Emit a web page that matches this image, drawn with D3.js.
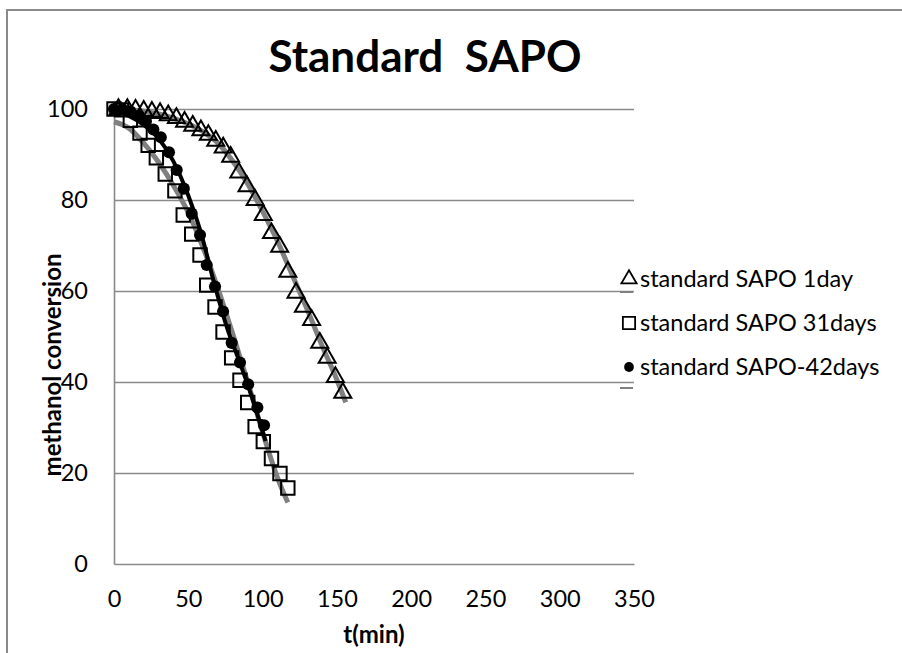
<!DOCTYPE html>
<html>
<head>
	<title>Standard SAPO</title>
	<script src="https://d3js.org/d3.v7.min.js"></script>
	<style type="text/css">
	html, body{
		margin:0;
		background:#fff;
	}
	svg text{
		font-family: Lato, "Open Sans", sans-serif;
		fill:#000;
	}
	</style>
</head>
<body>
	<div id="chart"></div>
	<script type="text/javascript">
	// values
	var day1T = [3, 9, 14.5, 20, 25.5, 31, 36.5, 42, 47.5, 53, 58.5, 63.5, 68.5, 73.5, 78.5, 84, 89.5, 95, 100.5, 106, 111.5, 117, 122.5, 127.5, 133, 138.5, 143.5, 149, 154];
	var day1V = [100, 100, 99.8, 99.6, 99.4, 99.1, 98.6, 98, 97.2, 96.3, 95.3, 94.3, 93, 91.5, 89.5, 86, 83, 80, 76.7, 72.7, 69.7, 64.2, 59.6, 56.5, 53.6, 48.6, 45.3, 41.1, 37.6];

	var day31T = [0, 5, 11, 17.5, 23, 28.5, 34.5, 41, 46.6, 52.3, 57.9, 62.4, 68, 73.4, 79.2, 84.8, 90, 95, 100.5, 106, 111.7, 117];
	var day31V = [100, 99.8, 97.5, 94.7, 92, 89.3, 85.7, 82, 76.7, 72.5, 67.9, 61.3, 56.5, 51, 45.3, 40.4, 35.5, 30.2, 26.9, 23.2, 19.9, 16.7];

	var day42T = [0, 5.5, 11, 16.5, 21.5, 26.5, 31.5, 37, 42.2, 47, 52.3, 57.9, 62.4, 68, 73.4, 79.2, 84.8, 90.3, 96.5, 101];
	var day42V = [100, 100, 99.5, 98.5, 97.3, 95.5, 93.8, 90.5, 86.6, 82.5, 77, 72.3, 65.7, 61, 55.5, 48.6, 44.3, 39.5, 34.4, 30.5];

	// fitted curves (gray for 1day and 31days, black for 42days)
	var fit1T = [0, 20, 40, 60, 70, 80, 90, 100, 110, 120, 130, 140, 150, 156];
	var fit1V = [100, 99.5, 98, 95, 92.5, 88.5, 83.5, 77.5, 71, 63.5, 56, 48, 40.5, 35.5];
	var fit31T = [0, 10, 20, 30, 40, 50, 60, 70, 80, 90, 100, 110, 117];
	var fit31V = [97.2, 95.8, 92.5, 88.3, 83.2, 77.2, 69.5, 60.5, 50.5, 40, 29, 19, 13.5];
	var fit42T = [0, 10, 20, 30, 40, 50, 58, 68, 76, 85, 93, 102];
	var fit42V = [99.5, 98.5, 96.5, 93.5, 88.5, 81, 73.4, 61, 52, 44, 36.5, 27];

	var xTicks = [0, 50, 100, 150, 200, 250, 300, 350];
	var yTicks = [0, 20, 40, 60, 80, 100];
	var seriesNames = ["standard SAPO 1day", "standard SAPO 31days", "standard SAPO-42days"];

	var W = 902, H = 653;
	var svg = d3.select("#chart").append("svg").attr("width", W).attr("height", H);

	var x = d3.scaleLinear().domain([0, 350]).range([114, 634]);
	var y = d3.scaleLinear().domain([0, 100]).range([564, 109]);

	var gridGray = "#8a8a8a";

	// chart area border (runs off the right and bottom)
	svg.append("rect").attr("x", 7).attr("y", 10).attr("width", 1000).attr("height", 800)
		.attr("fill", "none").attr("stroke", gridGray).attr("stroke-width", 2);

	// gridlines
	var grid = svg.append("g").attr("transform", "translate(" + x(0) + ",0)")
		.call(d3.axisLeft(y).tickValues(yTicks.slice(1)).tickSize(-(x(350) - x(0))).tickFormat(""));
	grid.select(".domain").remove();
	grid.selectAll("line").attr("stroke", gridGray).attr("stroke-width", 1.6);

	// axes
	var xAxis = svg.append("g").attr("transform", "translate(0," + y(0) + ")")
		.call(d3.axisBottom(x).tickValues(xTicks).tickSize(0).tickPadding(26));
	xAxis.select(".domain").attr("stroke", gridGray).attr("stroke-width", 1.6);
	xAxis.selectAll("text").style("font-size", "23.5px");

	var yAxis = svg.append("g").attr("transform", "translate(" + x(0) + ",0)")
		.call(d3.axisLeft(y).tickValues(yTicks).tickSize(0).tickPadding(26));
	yAxis.select(".domain").attr("stroke", gridGray).attr("stroke-width", 1.6);
	yAxis.selectAll("text").style("font-size", "23.5px");

	// titles
	svg.append("text").attr("x", 425).attr("y", 72).attr("text-anchor", "middle")
		.style("font-size", "44px").style("font-weight", "bold").style("white-space", "pre")
		.text("Standard  SAPO");
	svg.append("text").attr("x", 374).attr("y", 643).attr("text-anchor", "middle")
		.style("font-size", "24px").style("font-weight", "bold").text("t(min)");
	svg.append("text").attr("transform", "translate(61,365) rotate(-90)").attr("text-anchor", "middle")
		.style("font-size", "24px").style("font-weight", "bold").text("methanol conversion");

	// fit lines
	var line = d3.line().x(function(d){ return x(d[0]); }).y(function(d){ return y(d[1]); })
		.curve(d3.curveMonotoneX);
	function pairs(t, v){ return t.map(function(d, i){ return [d, v[i]]; }); }

	svg.append("path").datum(pairs(fit1T, fit1V)).attr("d", line)
		.attr("fill", "none").attr("stroke", "#808080").attr("stroke-width", 5);
	svg.append("path").datum(pairs(fit31T, fit31V)).attr("d", line)
		.attr("fill", "none").attr("stroke", "#808080").attr("stroke-width", 5);
	svg.append("path").datum(pairs(fit42T, fit42V)).attr("d", line)
		.attr("fill", "none").attr("stroke", "#000").attr("stroke-width", 4);

	// markers
	var tri = d3.symbol().type(d3.symbolTriangle).size(125);
	var sq = d3.symbol().type(d3.symbolSquare).size(180);
	var dot = d3.symbol().type(d3.symbolCircle).size(115);

	svg.append("g").selectAll("path").data(pairs(day1T, day1V)).enter().append("path")
		.attr("d", tri).attr("transform", function(d){ return "translate(" + x(d[0]) + "," + y(d[1]) + ")"; })
		.attr("fill", "none").attr("stroke", "#000").attr("stroke-width", 2);
	svg.append("g").selectAll("path").data(pairs(day31T, day31V)).enter().append("path")
		.attr("d", sq).attr("transform", function(d){ return "translate(" + x(d[0]) + "," + y(d[1]) + ")"; })
		.attr("fill", "none").attr("stroke", "#000").attr("stroke-width", 2);
	svg.append("g").selectAll("path").data(pairs(day42T, day42V)).enter().append("path")
		.attr("d", dot).attr("transform", function(d){ return "translate(" + x(d[0]) + "," + y(d[1]) + ")"; })
		.attr("fill", "#000");

	// legend
	var legendY = [279, 323, 367];
	var legendSym = [d3.symbol().type(d3.symbolTriangle).size(100), d3.symbol().type(d3.symbolSquare).size(150),
		d3.symbol().type(d3.symbolCircle).size(75)];
	var lg = svg.append("g");
	seriesNames.forEach(function(name, i){
		lg.append("path").attr("d", legendSym[i]).attr("transform", "translate(629," + legendY[i] + ")")
			.attr("fill", i == 2 ? "#000" : "none").attr("stroke", "#000").attr("stroke-width", i == 2 ? 0 : 1.8);
		lg.append("text").attr("x", 640).attr("y", legendY[i] + 8).style("font-size", "23.5px").text(name);
	});
	// leftover bits of trendline keys
	[292, 388].forEach(function(ly){
		lg.append("line").attr("x1", 620).attr("x2", 633).attr("y1", ly).attr("y2", ly)
			.attr("stroke", "#808080").attr("stroke-width", 2);
	});
	</script>
</body>
</html>
